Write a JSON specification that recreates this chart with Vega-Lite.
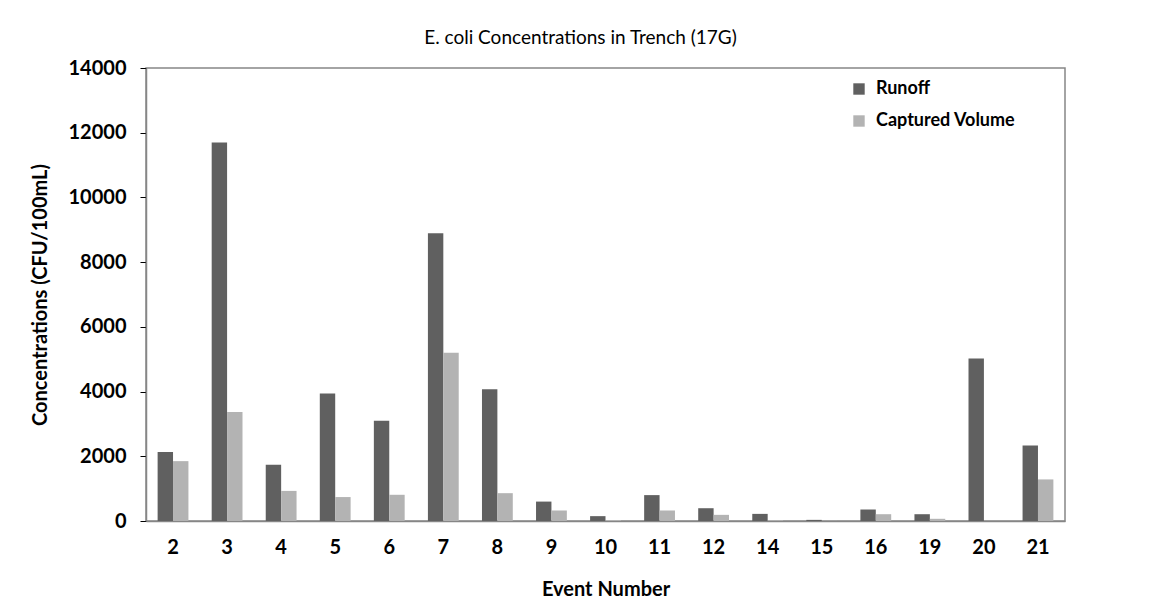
{
  "$schema": "https://vega.github.io/schema/vega-lite/v6.json",
  "autosize": {"type": "none"},
  "padding": {"left": 146, "top": 68, "right": 93, "bottom": 87},
  "width": 919,
  "height": 453,
  "background": "white",
  "title": {
    "text": "E. coli Concentrations in Trench (17G)",
    "font": "Lato",
    "fontSize": 19,
    "fontWeight": "normal",
    "color": "#000000",
    "anchor": "middle",
    "dx": -25,
    "offset": 10
  },
  "data": {
    "values": [
      {"event": 2, "series": "Runoff", "value": 2130},
      {"event": 2, "series": "Captured Volume", "value": 1850},
      {"event": 3, "series": "Runoff", "value": 11700},
      {"event": 3, "series": "Captured Volume", "value": 3370},
      {"event": 4, "series": "Runoff", "value": 1740},
      {"event": 4, "series": "Captured Volume", "value": 930},
      {"event": 5, "series": "Runoff", "value": 3940},
      {"event": 5, "series": "Captured Volume", "value": 740},
      {"event": 6, "series": "Runoff", "value": 3100},
      {"event": 6, "series": "Captured Volume", "value": 810},
      {"event": 7, "series": "Runoff", "value": 8890},
      {"event": 7, "series": "Captured Volume", "value": 5200},
      {"event": 8, "series": "Runoff", "value": 4070},
      {"event": 8, "series": "Captured Volume", "value": 860},
      {"event": 9, "series": "Runoff", "value": 600},
      {"event": 9, "series": "Captured Volume", "value": 325},
      {"event": 10, "series": "Runoff", "value": 150},
      {"event": 10, "series": "Captured Volume", "value": 30},
      {"event": 11, "series": "Runoff", "value": 800},
      {"event": 11, "series": "Captured Volume", "value": 325},
      {"event": 12, "series": "Runoff", "value": 395},
      {"event": 12, "series": "Captured Volume", "value": 190},
      {"event": 14, "series": "Runoff", "value": 220},
      {"event": 14, "series": "Captured Volume", "value": 25},
      {"event": 15, "series": "Runoff", "value": 35},
      {"event": 15, "series": "Captured Volume", "value": 5},
      {"event": 16, "series": "Runoff", "value": 355},
      {"event": 16, "series": "Captured Volume", "value": 210},
      {"event": 19, "series": "Runoff", "value": 210},
      {"event": 19, "series": "Captured Volume", "value": 68},
      {"event": 20, "series": "Runoff", "value": 5020},
      {"event": 20, "series": "Captured Volume", "value": 0},
      {"event": 21, "series": "Runoff", "value": 2330},
      {"event": 21, "series": "Captured Volume", "value": 1285}
    ]
  },
  "mark": {"type": "bar"},
  "encoding": {
    "x": {
      "field": "event",
      "type": "ordinal",
      "sort": "ascending",
      "scale": {"paddingInner": 0.43, "paddingOuter": 0.215},
      "axis": {
        "title": "Event Number",
        "labelAngle": 0,
        "ticks": false,
        "labelPadding": 16,
        "titlePadding": 22,
        "labelFont": "Lato",
        "labelFontSize": 20,
        "labelFontWeight": "bold",
        "labelColor": "#000000",
        "titleFont": "Lato",
        "titleFontSize": 20,
        "titleFontWeight": "bold",
        "titleColor": "#000000",
        "domainColor": "#868686",
        "domainWidth": 1.5
      }
    },
    "xOffset": {
      "field": "series",
      "type": "nominal",
      "sort": ["Runoff", "Captured Volume"],
      "scale": {"paddingInner": 0, "paddingOuter": 0}
    },
    "y": {
      "field": "value",
      "type": "quantitative",
      "scale": {"domain": [0, 14000], "nice": false},
      "axis": {
        "title": "Concentrations (CFU/100mL)",
        "values": [0, 2000, 4000, 6000, 8000, 10000, 12000, 14000],
        "grid": false,
        "format": "d",
        "tickSize": 6,
        "tickColor": "#000000",
        "labelPadding": 14,
        "titlePadding": 18,
        "labelFont": "Lato",
        "labelFontSize": 20,
        "labelFontWeight": "bold",
        "labelColor": "#000000",
        "titleFont": "Lato",
        "titleFontSize": 20,
        "titleFontWeight": "bold",
        "titleColor": "#000000",
        "domainColor": "#868686",
        "domainWidth": 1.5
      }
    },
    "color": {
      "field": "series",
      "type": "nominal",
      "sort": ["Runoff", "Captured Volume"],
      "scale": {"domain": ["Runoff", "Captured Volume"], "range": ["#606060", "#b3b3b3"]},
      "legend": {
        "title": null,
        "orient": "none",
        "legendX": 704,
        "legendY": 12,
        "symbolType": "square",
        "symbolSize": 130,
        "symbolStrokeWidth": 0,
        "labelFont": "Lato",
        "labelFontSize": 18,
        "labelFontWeight": "bold",
        "labelColor": "#000000",
        "rowPadding": 14,
        "labelOffset": 8
      }
    }
  },
  "config": {
    "view": {"stroke": "#868686", "strokeWidth": 1.5}
  }
}
